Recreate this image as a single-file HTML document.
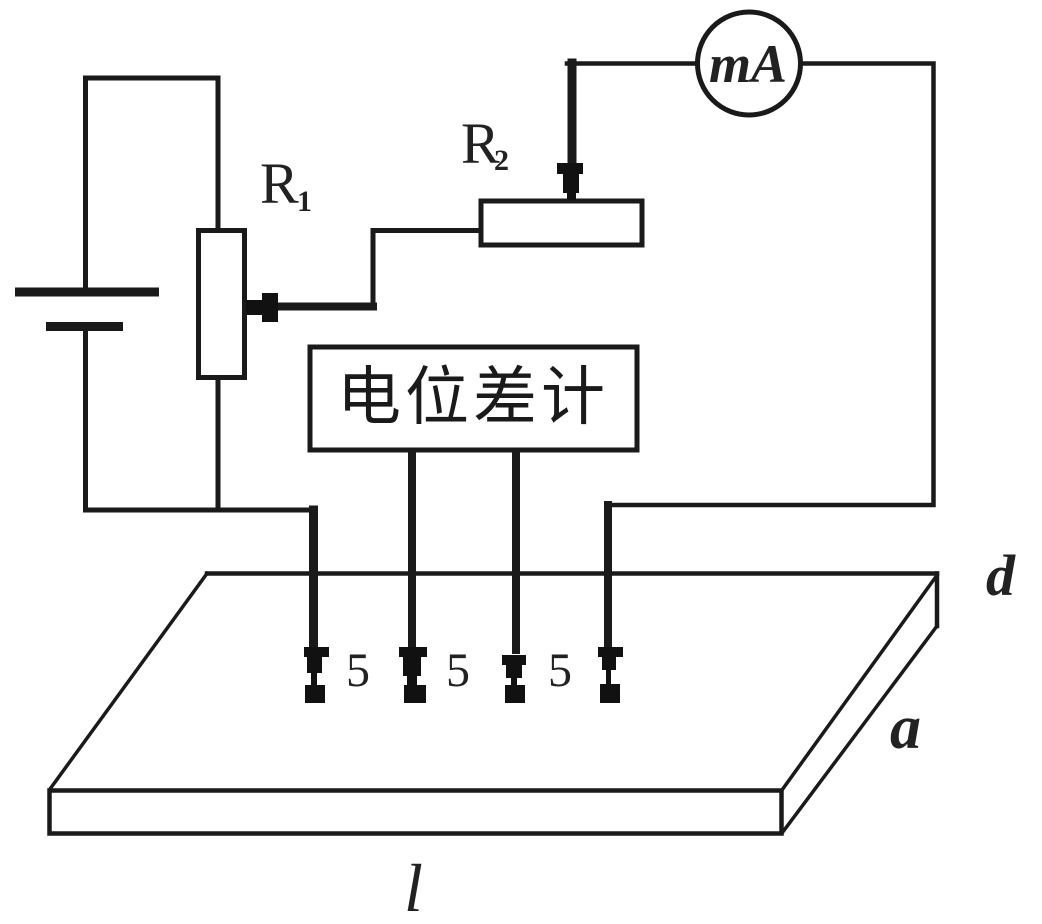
<!DOCTYPE html>
<html>
<head>
<meta charset="utf-8">
<style>
  html,body{margin:0;padding:0;background:#fff;}
  svg{display:block;}
</style>
</head>
<body>
<svg width="1042" height="924" viewBox="0 0 1042 924" xmlns="http://www.w3.org/2000/svg">
  <rect width="1042" height="924" fill="#fff"/>
  <g fill="none" stroke="#1a1a1a" stroke-linecap="square" stroke-linejoin="miter">
    <!-- left loop -->
    <polyline points="85.5,290 85.5,78 218,78 218,230" stroke-width="5"/>
    <polyline points="85.5,328 85.5,510 313,510" stroke-width="5"/>
    <line x1="218" y1="378" x2="218" y2="510" stroke-width="5"/>
    <!-- R1 -->
    <rect x="198.5" y="230.5" width="46" height="147" stroke-width="5"/>
    <!-- slider R1 wire -->
    <line x1="270" y1="306.5" x2="373" y2="306.5" stroke-width="8"/>
    <polyline points="373,306 373,230.5 479,230.5" stroke-width="5"/>
    <!-- R2 -->
    <rect x="481" y="201" width="161" height="44" stroke-width="5"/>
    <!-- top wire -->
    <line x1="567" y1="63.5" x2="697" y2="63.5" stroke-width="4.5"/>
    <polyline points="802,63.5 933.5,63.5 933.5,505 608,505" stroke-width="4.5"/>
    <!-- R2 slider vertical -->
    <line x1="572" y1="63" x2="572" y2="165" stroke-width="9"/>
    <!-- mA circle -->
    <circle cx="749" cy="63.5" r="51.5" stroke-width="5"/>
    <!-- potentiometer box -->
    <rect x="310" y="347" width="327" height="103" stroke-width="5"/>
    <!-- probes -->
    <line x1="313.5" y1="510" x2="313.5" y2="650" stroke-width="9"/>
    <line x1="412" y1="452" x2="412" y2="650" stroke-width="8"/>
    <line x1="516" y1="452" x2="516" y2="650" stroke-width="8"/>
    <line x1="608" y1="505" x2="608" y2="650" stroke-width="8"/>
    <!-- plate -->
    <line x1="207" y1="573.5" x2="937" y2="573.5" stroke-width="4.5"/>
    <line x1="207" y1="573.5" x2="50" y2="789" stroke-width="3.5"/>
    <rect x="49.5" y="790.5" width="732" height="43" stroke-width="4.5"/>
    <line x1="937" y1="573.5" x2="937" y2="626" stroke-width="4.5"/>
    <line x1="935" y1="578" x2="782" y2="790" stroke-width="3.5"/>
    <line x1="937" y1="626" x2="782" y2="833" stroke-width="3.5"/>
  </g>
  <!-- battery plates -->
  <rect x="15" y="287.5" width="144" height="9" fill="#1a1a1a"/>
  <rect x="46" y="322" width="77" height="9" fill="#1a1a1a"/>
  <!-- R1 slider arrow -->
  <g fill="#111">
    <rect x="246" y="300" width="22" height="15"/>
    <rect x="262" y="293" width="16" height="29"/>
  </g>
  <!-- R2 slider arrow -->
  <g fill="#111">
    <rect x="557" y="163" width="26" height="11"/>
    <rect x="563" y="173" width="16" height="20"/>
    <rect x="567" y="192" width="9" height="8"/>
  </g>
  <!-- probe tips -->
  <g fill="#111">
    <rect x="304" y="647" width="25" height="10"/>
    <rect x="307" y="656" width="15" height="17"/>
    <rect x="311" y="672" width="6" height="13"/>
    <rect x="305" y="685" width="20" height="18"/>

    <rect x="399" y="647" width="28" height="10"/>
    <rect x="403" y="656" width="18" height="20"/>
    <rect x="407" y="675" width="10" height="10"/>
    <rect x="404" y="685" width="22" height="18"/>

    <rect x="502" y="655" width="24" height="10"/>
    <rect x="506" y="664" width="16" height="14"/>
    <rect x="511" y="677" width="6" height="8"/>
    <rect x="505" y="685" width="20" height="18"/>

    <rect x="598" y="647" width="25" height="10"/>
    <rect x="602" y="656" width="14" height="14"/>
    <rect x="606" y="669" width="5" height="15"/>
    <rect x="600" y="684" width="20" height="19"/>
  </g>
  <!-- labels -->
  <g fill="#222" font-family="'Liberation Serif', serif">
    <text x="260" y="203" font-size="58">R</text>
    <text x="297" y="211" font-size="30" font-weight="bold">1</text>
    <text x="461" y="163" font-size="58">R</text>
    <text x="494" y="170" font-size="30" font-weight="bold">2</text>
    <text x="748" y="82" font-size="54" font-style="italic" font-weight="bold" text-anchor="middle">mA</text>
    <text x="346" y="686" font-size="48">5</text>
    <text x="446" y="686" font-size="48">5</text>
    <text x="548" y="686" font-size="48">5</text>
    <text x="986" y="595" font-size="58" font-style="italic" font-weight="bold">d</text>
    <text x="890" y="748" font-size="62" font-style="italic" font-weight="bold">a</text>
    <text x="404" y="911" font-size="68" font-style="italic">l</text>
  </g>
  <text x="473" y="397" font-size="64" fill="#1a1a1a" text-anchor="middle" dominant-baseline="central" letter-spacing="4" font-family="'Liberation Sans', 'Noto Sans CJK SC', sans-serif">电位差计</text>
</svg>
</body>
</html>
